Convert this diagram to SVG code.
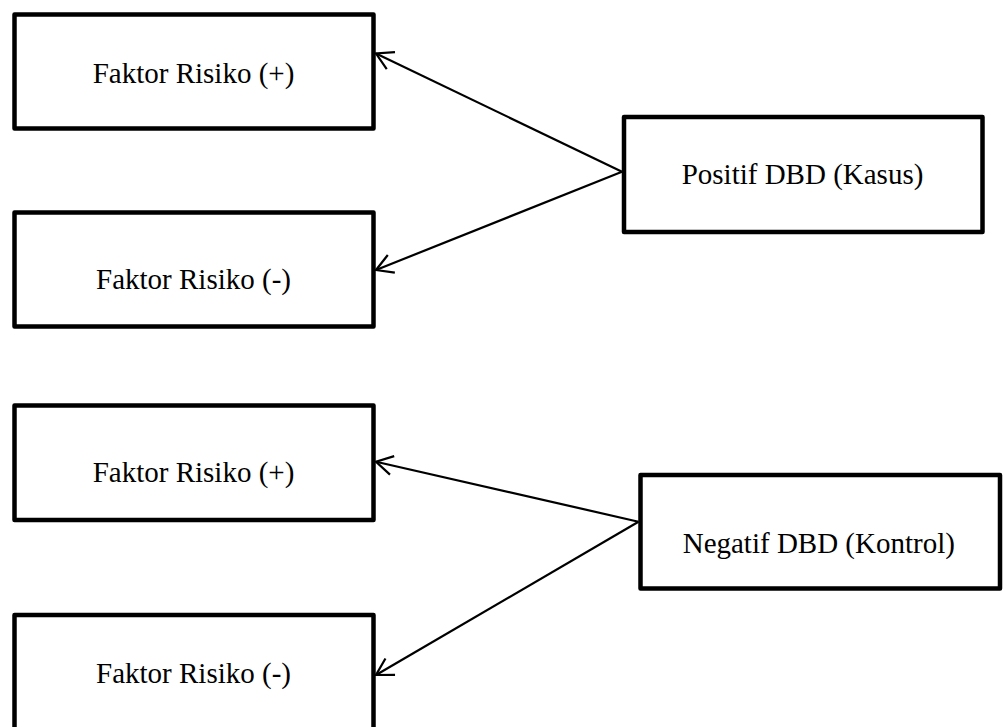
<svg xmlns="http://www.w3.org/2000/svg" width="1007" height="727" viewBox="0 0 1007 727">
<style>
.box{fill:#fff;stroke:#000;stroke-width:4.5;stroke-linejoin:round}
.lbl{font-family:"Liberation Serif","Times New Roman",serif;font-size:29px;fill:#000;text-anchor:middle}
.conn{stroke:#000;stroke-width:2.2;fill:none}
</style>
<defs>
<marker id="open" viewBox="-20 -12 24 24" markerWidth="24" markerHeight="24" refX="0" refY="0" markerUnits="userSpaceOnUse" orient="auto">
<path d="M-16.5,-9.5 L0,0 L-16.5,9.5" fill="none" stroke="#000" stroke-width="2.2"/>
</marker>
</defs>
<rect x="0" y="0" width="1007" height="727" fill="#fff"/>
<g id="n1"><rect class="box" x="14.5" y="14.5" width="359" height="114"/><text class="lbl" x="193.5" y="83.3">Faktor Risiko (+)</text></g>
<g id="n2"><rect class="box" x="14.5" y="212.5" width="359" height="114"/><text class="lbl" x="193.5" y="289.3">Faktor Risiko (-)</text></g>
<g id="n3"><rect class="box" x="624" y="117" width="358.5" height="115"/><text class="lbl" x="802.5" y="184.3">Positif DBD (Kasus)</text></g>
<g id="n4"><rect class="box" x="14.5" y="405.5" width="359" height="114.5"/><text class="lbl" x="193.5" y="482.3">Faktor Risiko (+)</text></g>
<g id="n5"><rect class="box" x="14.5" y="615" width="359" height="120"/><text class="lbl" x="193.5" y="683.3">Faktor Risiko (-)</text></g>
<g id="n6"><rect class="box" x="640.5" y="475" width="359.5" height="113.5"/><text class="lbl" x="818.8" y="552.7">Negatif DBD (Kontrol)</text></g>
<g id="connectors">
<line class="conn" x1="622" y1="171.7" x2="376" y2="53.5" marker-end="url(#open)"/>
<line class="conn" x1="622" y1="171.7" x2="376" y2="270" marker-end="url(#open)"/>
<line class="conn" x1="638.5" y1="521.7" x2="376" y2="461.7" marker-end="url(#open)"/>
<line class="conn" x1="638.5" y1="521.7" x2="376" y2="675" marker-end="url(#open)"/>
</g>
</svg>
